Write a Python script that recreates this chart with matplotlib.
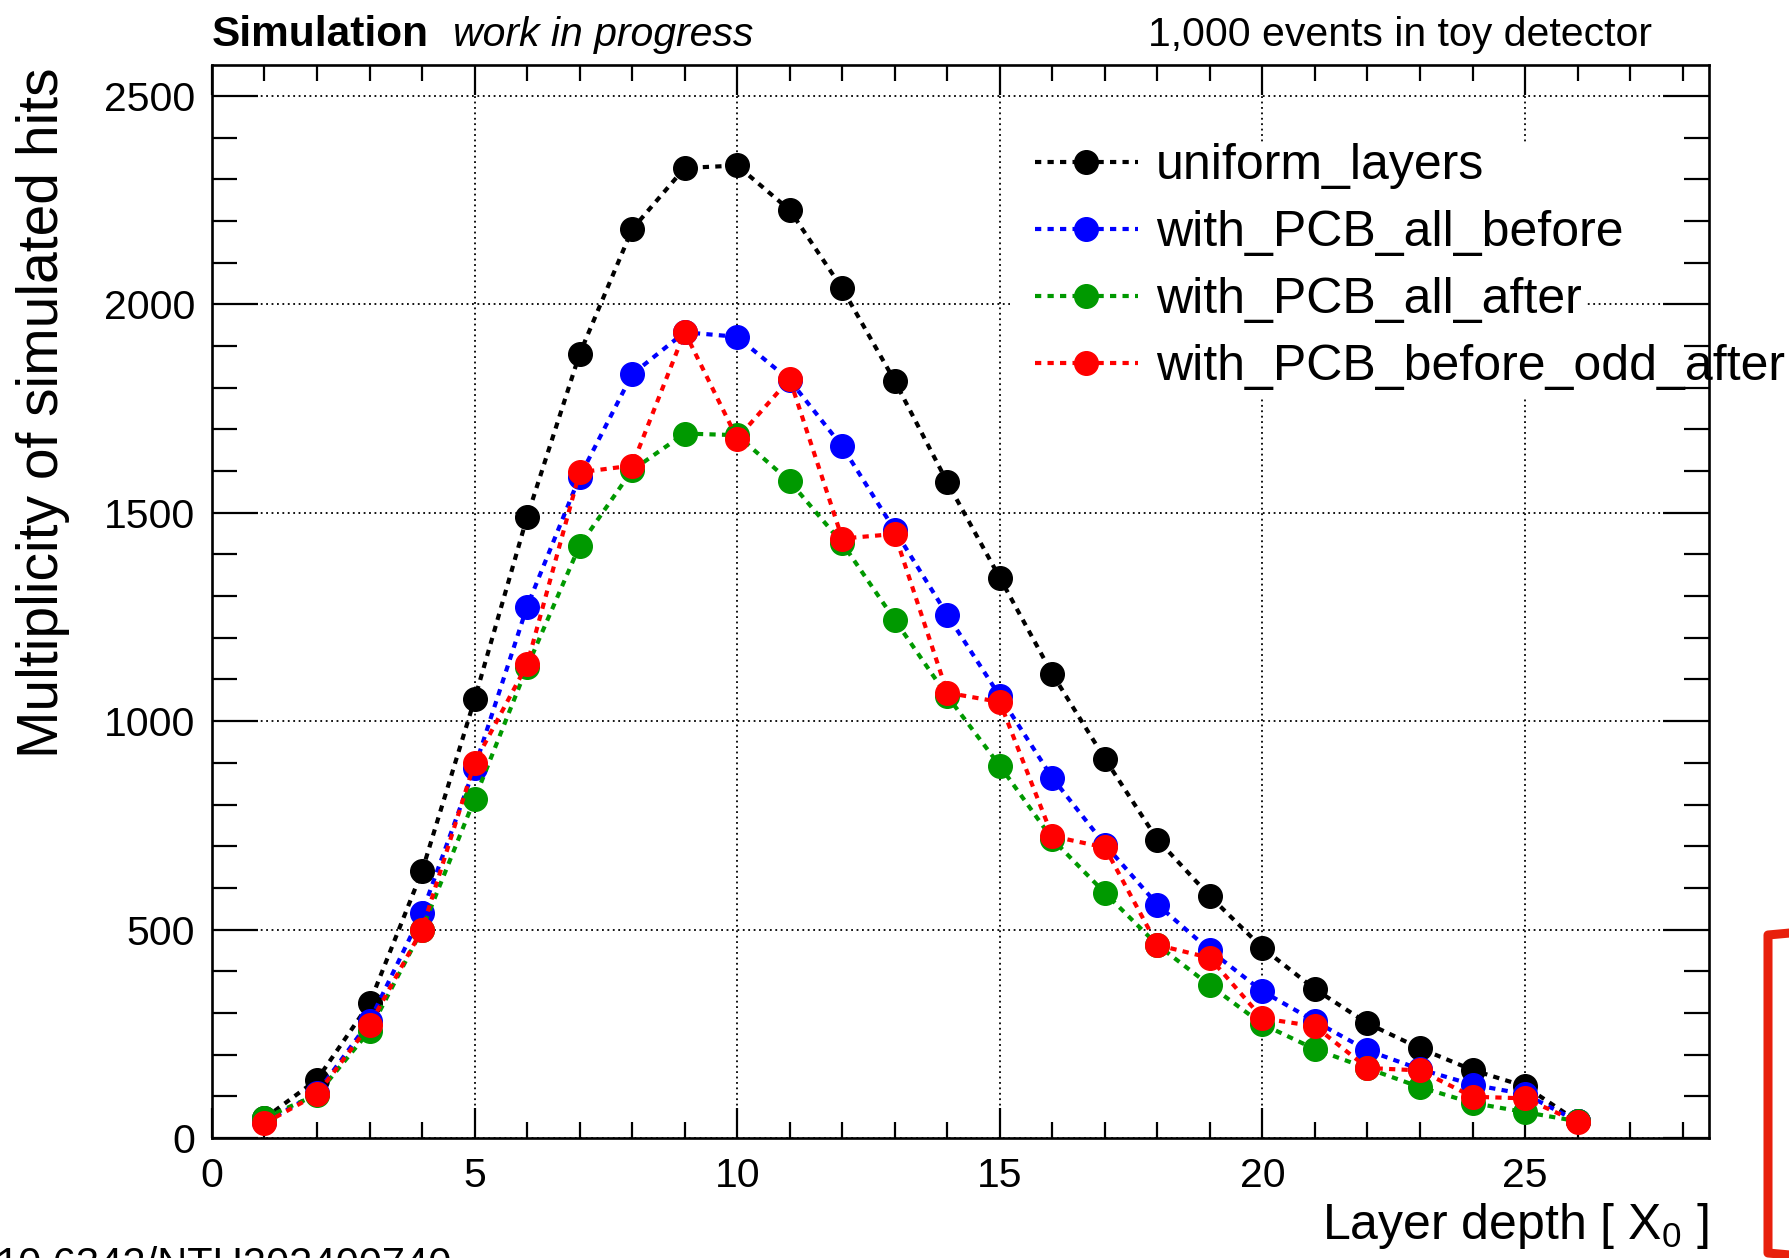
import matplotlib
matplotlib.use("Agg")
import matplotlib.pyplot as plt
from matplotlib.lines import Line2D
from matplotlib.patches import Rectangle

plt.rcParams['font.family'] = ['Liberation Sans', 'DejaVu Sans']
plt.rcParams['mathtext.fontset'] = 'custom'
plt.rcParams['mathtext.rm'] = 'Liberation Sans'
plt.rcParams['mathtext.it'] = 'Liberation Sans:italic'

# layer index and hit multiplicities
layers = [1, 2, 3, 4, 5, 6, 7, 8, 9, 10, 11, 12, 13, 14, 15, 16, 17, 18, 19, 20, 21, 22, 23, 24, 25, 26]
uniform_layers = [47, 140, 323, 640, 1052, 1490, 1881, 2180, 2327, 2333, 2226, 2038, 1816, 1573, 1344,
                  1113, 910, 716, 580, 456, 357, 275, 215, 163, 124, 40]
pcb_all_before = [38, 108, 280, 540, 888, 1275, 1586, 1832, 1933, 1922, 1818, 1659, 1458, 1255, 1060,
                  864, 704, 560, 450, 352, 280, 210, 165, 128, 105, 40]
pcb_all_after = [48, 104, 257, 500, 813, 1130, 1421, 1602, 1690, 1686, 1575, 1427, 1243, 1060, 893,
                 717, 588, 463, 366, 273, 213, 167, 122, 84, 62, 40]
pcb_before_odd_after = [35, 105, 271, 500, 900, 1136, 1597, 1613, 1934, 1678, 1821, 1438, 1449, 1068, 1046,
                        724, 697, 463, 432, 287, 268, 168, 162, 99, 95, 38]

series = [
    ("uniform_layers", uniform_layers, "black"),
    ("with_PCB_all_before", pcb_all_before, "#0000ff"),
    ("with_PCB_all_after", pcb_all_after, "#009900"),
    ("with_PCB_before_odd_after", pcb_before_odd_after, "#ff0000"),
]

fig = plt.figure(figsize=(17.9, 12.58), dpi=100)
ax = fig.add_axes([0.1184, 0.0954, 0.8363, 0.8529])

for name, vals, col in series:
    ax.plot(layers, vals, color=col, lw=3.0, ls=(0, (1.5, 1.5)),
            marker='o', ms=17, mec=col, mfc=col, label=name, zorder=2)

ax.set_xlim(0, 28.5)
ax.set_ylim(0, 2574)
ax.set_xticks([0, 5, 10, 15, 20, 25])
ax.set_xticks(range(0, 29), minor=True)
ax.set_yticks([0, 500, 1000, 1500, 2000, 2500])
ax.set_yticks(range(0, 2574, 100), minor=True)

ax.set_axisbelow(True)
ax.grid(True, which='major', color='black', lw=1.3, ls=(0, (1, 2)))

ax.tick_params(which='both', direction='in', top=True, right=True, labelsize=29.5, width=1.6)
ax.tick_params(axis='x', which='major', length=21.6, pad=14)
ax.tick_params(axis='x', which='minor', length=11.5)
ax.tick_params(axis='y', which='major', length=33, pad=12)
ax.tick_params(axis='y', which='minor', length=18)
for s in ax.spines.values():
    s.set_linewidth(1.9)

# white box behind the legend, as in the original canvas
ax.add_patch(Rectangle((0.533, 0.692), 0.3855, 0.235, transform=ax.transAxes,
                       facecolor='white', edgecolor='none', zorder=1))
ax.legend(loc='upper left', bbox_to_anchor=(0.5498, 0.927), frameon=False, fontsize=36,
          handlelength=2.06, handletextpad=0.36, borderpad=0, borderaxespad=0, labelspacing=0.42)

fig.text(43 / 1790, 1 - 68 / 1258, "Multiplicity of simulated hits", rotation=90,
         ha='center', va='top', fontsize=41)
fig.text(1709 / 1790, 1 - 1239 / 1258, r"Layer depth [ $\mathrm{X}_{0}$ ]",
         ha='right', va='baseline', fontsize=36)

fig.text(212 / 1790, 1 - 46 / 1258, "Simulation", fontweight='bold', fontsize=30.5, va='baseline')
fig.text(453 / 1790, 1 - 46 / 1258, "work in progress", style='italic', fontsize=29.5, va='baseline')
fig.text(1652 / 1790, 1 - 46 / 1258, "1,000 events in toy detector", ha='right', fontsize=29.5, va='baseline')

fig.text(-4 / 1790, 1 - 1246 / 1258, "10.6342/NTU202400740", fontsize=30, va='top')

# red bracket drawn on the right margin
fig.add_artist(Line2D([1.0, 1768 / 1790, 1768 / 1790, 1.0],
                      [1 - 933 / 1258, 1 - 935 / 1258, 1 - 1253 / 1258, 1 - 1255 / 1258],
                      color='#e8200c', lw=6.5, solid_joinstyle='round'))

fig.savefig("out.png", dpi=100)
